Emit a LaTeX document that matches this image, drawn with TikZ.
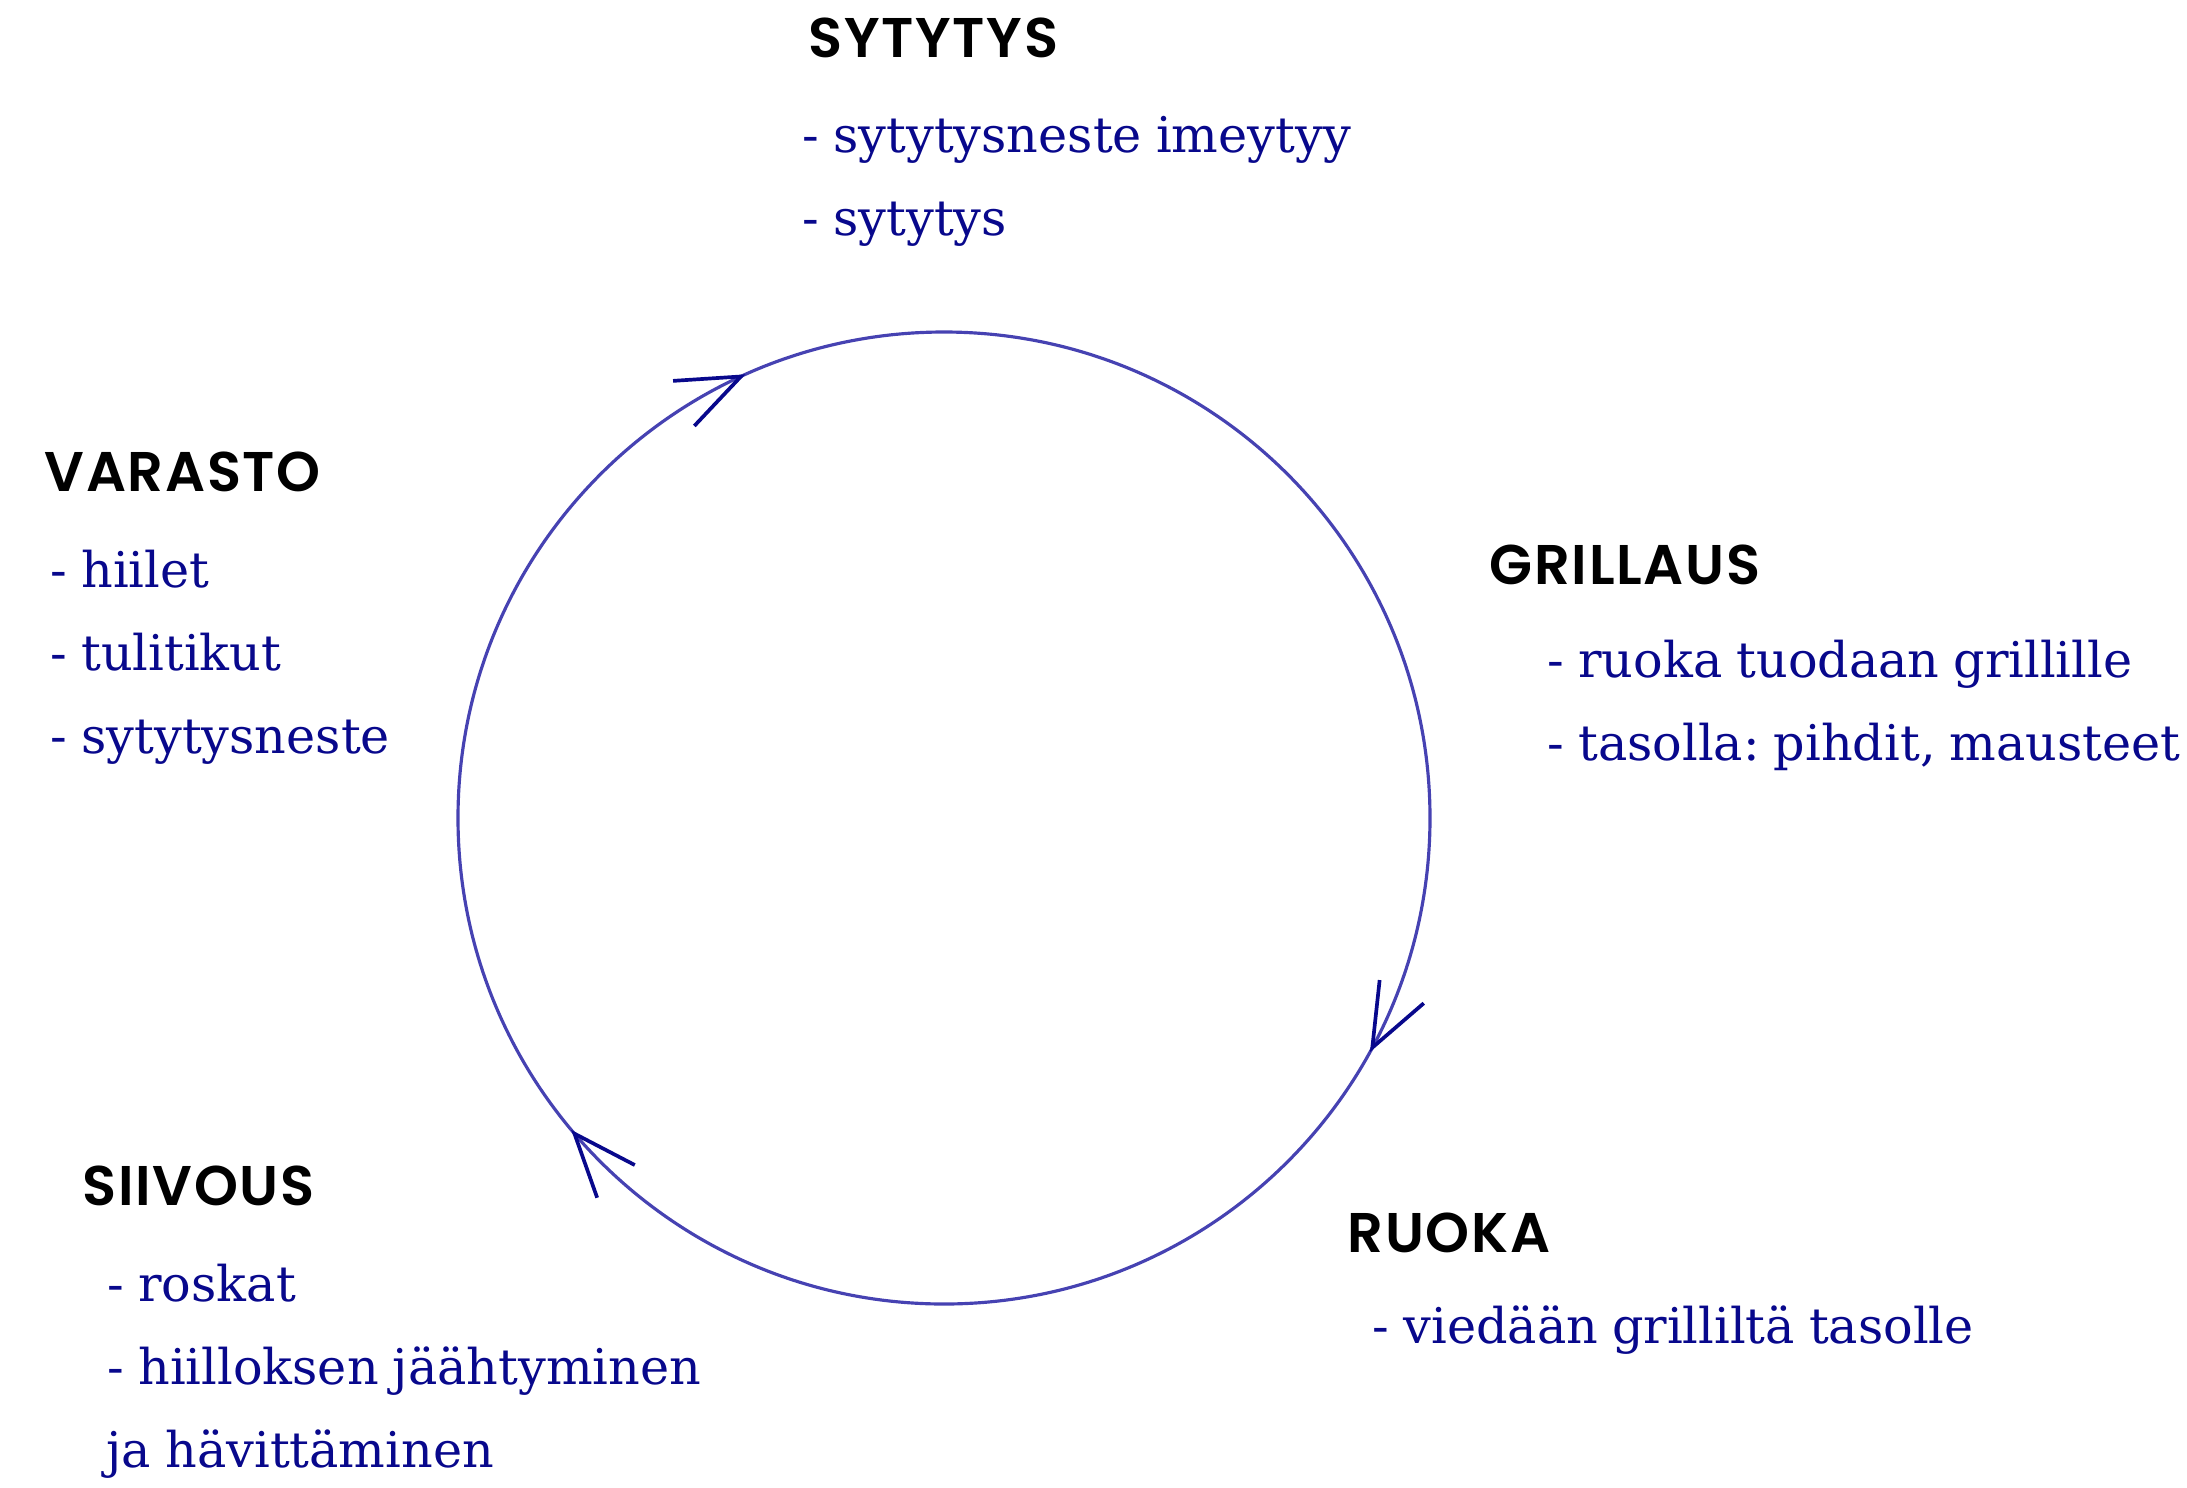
\documentclass[tikz,border=0pt]{standalone}
\usepackage{fontspec}
\usepackage{xcolor}
\usepackage{tikz}
\usetikzlibrary{calc}
\newfontfamily\otsikkofont[LetterSpace=3]{Poppins SemiBold}
\newfontfamily\rivifont[WordSpace=0.9]{DejaVu Serif}
\definecolor{tumma}{RGB}{8,8,140}
\definecolor{kehavari}{RGB}{70,66,178}
\tikzset{>=latex}
\tikzset{
	otsikko/.style={anchor=base west, inner sep=0pt,
		font=\otsikkofont\fontsize{15.9pt}{18pt}\selectfont},
	rivi/.style={anchor=base west, inner sep=0pt, text=tumma,
		font=\rivifont\frenchspacing\fontsize{14pt}{17pt}\selectfont},
	kaari/.style={line width=0.9pt, draw=kehavari},
	karki/.style={line width=1.05pt, draw=tumma}
}

\begin{document}
\begin{tikzpicture}[x=0.01cm, y=0.01cm]
	\useasboundingbox (0,0) rectangle (2187,-1487);
	\coordinate[](k) at (944,-818);
	
	\pgfmathsetmacro{\r}{486}
 	\pgfmathsetmacro{\dl}{68}
	
	% Kehä
	\draw[kaari] (k) circle (\r);
	
	% Nuolenkärjet
	\foreach \a in {114.7,-28.2,220.5}
	{
	\coordinate (t) at ($(k)+(\a:\r)$);
	\draw[karki] ($(t)+(\a+69:\dl)$) -- (t) -- ($(t)+(\a+112:\dl)$);
	}
	
	% Sytytys
	\node[otsikko] (sytytys) at (808,-57) {SYTYTYS};
	\foreach \t [count=\i] in {sytytysneste imeytyy, sytytys}
	{
	\node[rivi] (sytytys\i) at (802,-69-83*\i) {- \t};
	}
	
	% Varasto
	\node[otsikko] (varasto) at (44,-491) {VARASTO};
	\foreach \t [count=\i] in {hiilet, tulitikut, sytytysneste}
	{
	\node[rivi] (varasto\i) at (50,-504-83*\i) {- \t};
	}
	
	% Grillaus
	\node[otsikko] (grillaus) at (1489,-584) {GRILLAUS};
	\node[rivi] (grillaus1) at (1547,-677) {- ruoka tuodaan grillille};
	\node[rivi] (grillaus2) at (1547,-760) {- tasolla: pihdit, mausteet};
	
	% Ruoka
	\node[otsikko] (ruoka) at (1347,-1252) {RUOKA};
	\node[rivi] (ruoka1) at (1372,-1343) {- viedään grilliltä tasolle};
	
	% Siivous
	\node[otsikko] (siivous) at (82,-1205) {SIIVOUS};
	\node[rivi] (siivous1) at (107,-1301) {- roskat};
	\node[rivi] (siivous2) at (107,-1384) {- hiilloksen jäähtyminen};
	\node[rivi] (siivous3) at (106,-1467) {ja hävittäminen};
		
\end{tikzpicture}
\end{document}
